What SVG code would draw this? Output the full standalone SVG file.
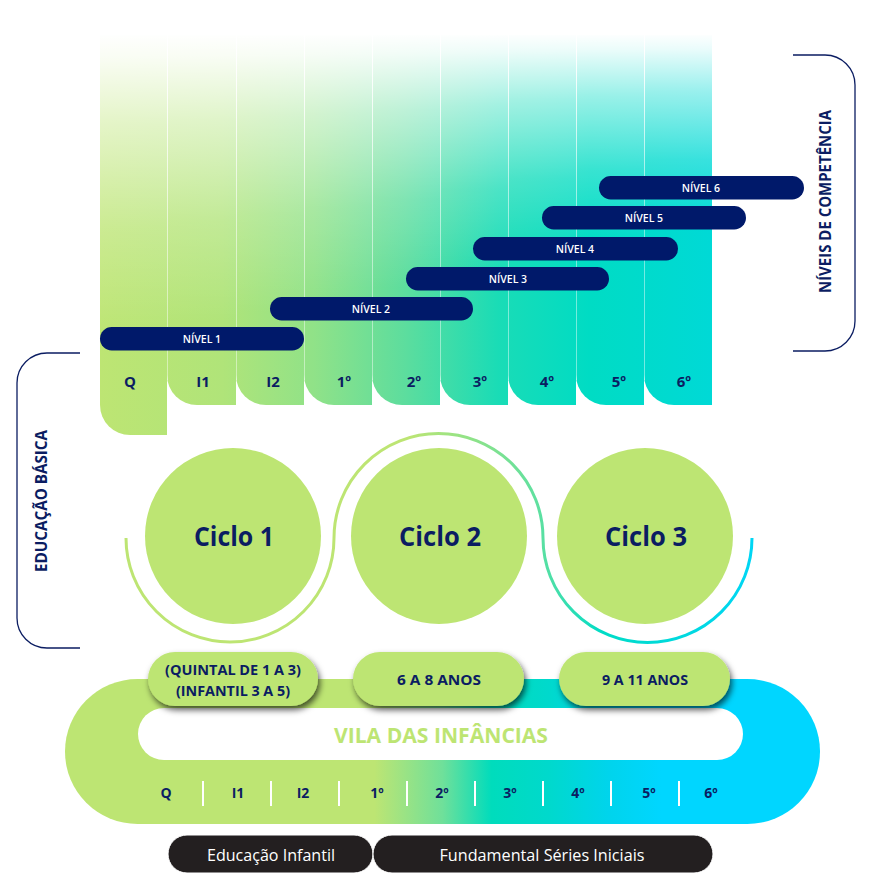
<svg xmlns="http://www.w3.org/2000/svg" width="869" height="875" viewBox="0 0 869 875">
  <defs>
    <linearGradient id="colGrad" gradientUnits="userSpaceOnUse" x1="100" y1="0" x2="712" y2="0">
      <stop offset="0" stop-color="#bde573"/>
      <stop offset="0.2" stop-color="#b0e479"/>
      <stop offset="0.35" stop-color="#90e288"/>
      <stop offset="0.5" stop-color="#5cdd9e"/>
      <stop offset="0.65" stop-color="#1adcb6"/>
      <stop offset="0.8" stop-color="#00dcc4"/>
      <stop offset="1" stop-color="#00d9d6"/>
    </linearGradient>
    <linearGradient id="fadeGrad" x1="0" y1="0" x2="0" y2="1">
      <stop offset="0" stop-color="#ffffff" stop-opacity="1"/>
      <stop offset="0.08" stop-color="#ffffff" stop-opacity="0.92"/>
      <stop offset="0.3" stop-color="#ffffff" stop-opacity="0.6"/>
      <stop offset="0.65" stop-color="#ffffff" stop-opacity="0.22"/>
      <stop offset="1" stop-color="#ffffff" stop-opacity="0"/>
    </linearGradient>
    <linearGradient id="bandGrad" gradientUnits="userSpaceOnUse" x1="65" y1="0" x2="820" y2="0">
      <stop offset="0" stop-color="#bde573"/>
      <stop offset="0.41" stop-color="#bde573"/>
      <stop offset="0.5" stop-color="#6fe09a"/>
      <stop offset="0.565" stop-color="#00dcbc"/>
      <stop offset="0.64" stop-color="#00d9cc"/>
      <stop offset="0.72" stop-color="#00d4ec"/>
      <stop offset="0.79" stop-color="#00d6ff"/>
      <stop offset="1" stop-color="#00d6ff"/>
    </linearGradient>
    <linearGradient id="arcGrad" gradientUnits="userSpaceOnUse" x1="126" y1="0" x2="752" y2="0">
      <stop offset="0" stop-color="#bde573"/>
      <stop offset="0.45" stop-color="#bde573"/>
      <stop offset="0.66" stop-color="#5ee0a0"/>
      <stop offset="0.76" stop-color="#00dcc6"/>
      <stop offset="1" stop-color="#00d6f4"/>
    </linearGradient>
    <filter id="shadow" x="-20%" y="-30%" width="140%" height="180%">
      <feDropShadow dx="2" dy="4" stdDeviation="3" flood-color="#000000" flood-opacity="0.65"/>
    </filter>
  </defs>
  <style>
    .lbl { font-family: "Open Sans", "Noto Sans", sans-serif; font-weight: 700; fill: #0b1d62; text-anchor: middle; }
    .col { font-size: 15px; }
    .band { font-size: 14px; }
    .lvl { fill: #00196a; }
    .lvlt { font-family: "Open Sans", "Noto Sans", sans-serif; font-weight: 600; font-size: 10.5px; fill: #ffffff; text-anchor: middle; }
    .bracket { fill: none; stroke: #0b1d62; stroke-width: 1.3; }
    .side { font-family: "Open Sans", "Noto Sans", sans-serif; font-weight: 700; font-size: 16px; fill: #0b1d62; text-anchor: middle; }
    .circle { fill: #bde573; }
    .ciclo { font-family: "Open Sans", "Noto Sans", sans-serif; font-weight: 700; font-size: 26px; fill: #0b1d62; text-anchor: middle; }
    .arc { fill: none; stroke: url(#arcGrad); stroke-width: 3; }
    .pill { fill: #bde573; filter: url(#shadow); }
    .pillt { font-family: "Open Sans", "Noto Sans", sans-serif; font-weight: 700; font-size: 15px; fill: #0b1d62; text-anchor: middle; }
    .dark { fill: #231f20; stroke: #ffffff; stroke-width: 1; }
    .darkt { font-family: "Open Sans", "Noto Sans", sans-serif; font-weight: 400; font-size: 16px; fill: #ffffff; text-anchor: middle; }
    .sep { stroke: #ffffff; stroke-width: 2; }
    .csep { stroke: #ffffff; stroke-width: 1; stroke-opacity: 0.45; }
    .fade { fill: url(#fadeGrad); }
  </style>

  <!-- Top column chart -->
  <g id="columns">
    <path fill="url(#colGrad)" d="M100,35 H167 V435 H130 A30,30 0 0 1 100,405 Z"/>
    <path fill="url(#colGrad)" d="M167,35 H236 V405 H197 A30,30 0 0 1 167,375 Z"/>
    <path fill="url(#colGrad)" d="M236,35 H304 V405 H266 A30,30 0 0 1 236,375 Z"/>
    <path fill="url(#colGrad)" d="M304,35 H372 V405 H334 A30,30 0 0 1 304,375 Z"/>
    <path fill="url(#colGrad)" d="M372,35 H440 V405 H402 A30,30 0 0 1 372,375 Z"/>
    <path fill="url(#colGrad)" d="M440,35 H508 V405 H470 A30,30 0 0 1 440,375 Z"/>
    <path fill="url(#colGrad)" d="M508,35 H576 V405 H538 A30,30 0 0 1 508,375 Z"/>
    <path fill="url(#colGrad)" d="M576,35 H644 V405 H606 A30,30 0 0 1 576,375 Z"/>
    <path fill="url(#colGrad)" d="M644,35 H712 V405 H674 A30,30 0 0 1 644,375 Z"/>
    <rect class="fade" x="99" y="33" width="69" height="300"/>
    <rect class="fade" x="167" y="33" width="70" height="290"/>
    <rect class="fade" x="236" y="33" width="69" height="280"/>
    <rect class="fade" x="304" y="33" width="69" height="268"/>
    <rect class="fade" x="372" y="33" width="69" height="255"/>
    <rect class="fade" x="440" y="33" width="69" height="240"/>
    <rect class="fade" x="508" y="33" width="69" height="225"/>
    <rect class="fade" x="576" y="33" width="69" height="210"/>
    <rect class="fade" x="644" y="33" width="69" height="195"/>
    <line class="csep" x1="167.5" y1="40" x2="167.5" y2="380"/>
    <line class="csep" x1="236.5" y1="40" x2="236.5" y2="380"/>
    <line class="csep" x1="304.5" y1="40" x2="304.5" y2="380"/>
    <line class="csep" x1="372.5" y1="40" x2="372.5" y2="380"/>
    <line class="csep" x1="440.5" y1="40" x2="440.5" y2="380"/>
    <line class="csep" x1="508.5" y1="40" x2="508.5" y2="380"/>
    <line class="csep" x1="576.5" y1="40" x2="576.5" y2="380"/>
    <line class="csep" x1="644.5" y1="40" x2="644.5" y2="380"/>
    <text class="lbl col" x="130" y="387">Q</text>
    <text class="lbl col" x="203" y="387">I1</text>
    <text class="lbl col" x="273" y="387">I2</text>
    <text class="lbl col" x="344" y="387">1º</text>
    <text class="lbl col" x="414" y="387">2º</text>
    <text class="lbl col" x="480" y="387">3º</text>
    <text class="lbl col" x="547" y="387">4º</text>
    <text class="lbl col" x="619" y="387">5º</text>
    <text class="lbl col" x="684" y="387">6º</text>
  </g>

  <!-- Competence levels -->
  <g id="nivel1">
    <rect class="lvl" x="100" y="327" width="204" height="23.5" rx="11.75"/>
    <text class="lvlt" x="202" y="342.5">NÍVEL 1</text>
  </g>
  <g id="nivel2">
    <rect class="lvl" x="270" y="297" width="203" height="23.5" rx="11.75"/>
    <text class="lvlt" x="371" y="312.5">NÍVEL 2</text>
  </g>
  <g id="nivel3">
    <rect class="lvl" x="406" y="267" width="203" height="23.5" rx="11.75"/>
    <text class="lvlt" x="508" y="282.5">NÍVEL 3</text>
  </g>
  <g id="nivel4">
    <rect class="lvl" x="473" y="237" width="205" height="23.5" rx="11.75"/>
    <text class="lvlt" x="575" y="252.5">NÍVEL 4</text>
  </g>
  <g id="nivel5">
    <rect class="lvl" x="542" y="206" width="204" height="23.5" rx="11.75"/>
    <text class="lvlt" x="644" y="221.5">NÍVEL 5</text>
  </g>
  <g id="nivel6">
    <rect class="lvl" x="599" y="176" width="205" height="23.5" rx="11.75"/>
    <text class="lvlt" x="701" y="191.5">NÍVEL 6</text>
  </g>

  <!-- Brackets -->
  <g id="niveis-competencia">
    <path class="bracket" d="M793,55 H825 A30,30 0 0 1 855,85 V321 A30,30 0 0 1 825,351 H793"/>
    <text class="side" transform="translate(831,201.5) rotate(-90)" textLength="183" lengthAdjust="spacingAndGlyphs">NÍVEIS DE COMPETÊNCIA</text>
  </g>
  <g id="educacao-basica">
    <path class="bracket" d="M80,353 H47 A30,30 0 0 0 17,383 V618 A30,30 0 0 0 47,648 H80"/>
    <text class="side" transform="translate(47,501) rotate(-90)" textLength="142" lengthAdjust="spacingAndGlyphs">EDUCAÇÃO BÁSICA</text>
  </g>

  <!-- Connectors (arcs) -->
  <g id="connectors">
    <path class="arc" d="M126,538 A104,104 0 0 0 334,538"/>
    <path class="arc" d="M334,538 A104.5,104.5 0 0 1 543,538"/>
    <path class="arc" d="M543,538 A104.5,104.5 0 0 0 752,538"/>
  </g>

  <!-- Cycles -->
  <g id="ciclo1">
    <circle class="circle" cx="233" cy="536" r="88"/>
    <text class="ciclo" x="234" y="546" textLength="80" lengthAdjust="spacingAndGlyphs">Ciclo 1</text>
  </g>
  <g id="ciclo2">
    <circle class="circle" cx="439" cy="536" r="88"/>
    <text class="ciclo" x="440" y="546" textLength="82" lengthAdjust="spacingAndGlyphs">Ciclo 2</text>
  </g>
  <g id="ciclo3">
    <circle class="circle" cx="645" cy="536" r="88"/>
    <text class="ciclo" x="646" y="546" textLength="82" lengthAdjust="spacingAndGlyphs">Ciclo 3</text>
  </g>

  <!-- Vila das Infâncias band -->
  <g id="vila">
    <path fill="url(#bandGrad)" d="M137.5,679 H747.5 A72.5,72.5 0 0 1 747.5,824 H137.5 A72.5,72.5 0 0 1 137.5,679 Z"/>
    <rect x="138" y="708" width="605" height="52" rx="26" fill="#ffffff"/>
    <text x="441" y="743" font-family="'Open Sans', 'Noto Sans', sans-serif" font-weight="700" font-size="22" fill="#bde573" text-anchor="middle" textLength="214" lengthAdjust="spacingAndGlyphs">VILA DAS INFÂNCIAS</text>
    <line class="sep" x1="203" y1="781" x2="203" y2="806"/>
    <line class="sep" x1="271" y1="781" x2="271" y2="806"/>
    <line class="sep" x1="339" y1="781" x2="339" y2="806"/>
    <line class="sep" x1="407" y1="781" x2="407" y2="806"/>
    <line class="sep" x1="475" y1="781" x2="475" y2="806"/>
    <line class="sep" x1="543" y1="781" x2="543" y2="806"/>
    <line class="sep" x1="611" y1="781" x2="611" y2="806"/>
    <line class="sep" x1="679" y1="781" x2="679" y2="806"/>
    <text class="lbl band" x="166" y="798">Q</text>
    <text class="lbl band" x="238" y="798">I1</text>
    <text class="lbl band" x="303" y="798">I2</text>
    <text class="lbl band" x="377" y="798">1º</text>
    <text class="lbl band" x="442" y="798">2º</text>
    <text class="lbl band" x="510" y="798">3º</text>
    <text class="lbl band" x="578" y="798">4º</text>
    <text class="lbl band" x="649" y="798">5º</text>
    <text class="lbl band" x="711" y="798">6º</text>
  </g>

  <!-- Age pills -->
  <g id="idade1">
    <rect class="pill" x="148" y="652" width="170" height="54" rx="27"/>
    <text class="pillt" x="233" y="675" textLength="136" lengthAdjust="spacingAndGlyphs">(QUINTAL DE 1 A 3)</text>
    <text class="pillt" x="233" y="696" textLength="114" lengthAdjust="spacingAndGlyphs">(INFANTIL 3 A 5)</text>
  </g>
  <g id="idade2">
    <rect class="pill" x="353" y="652" width="171" height="54" rx="27"/>
    <text class="pillt" x="439" y="685" textLength="84" lengthAdjust="spacingAndGlyphs">6 A 8 ANOS</text>
  </g>
  <g id="idade3">
    <rect class="pill" x="559" y="652" width="171" height="54" rx="27"/>
    <text class="pillt" x="645" y="685" textLength="86" lengthAdjust="spacingAndGlyphs">9 A 11 ANOS</text>
  </g>

  <!-- Bottom stage pills -->
  <g id="educacao-infantil">
    <rect class="dark" x="168" y="835" width="205" height="38" rx="19"/>
    <text class="darkt" x="271" y="861" textLength="128" lengthAdjust="spacingAndGlyphs">Educação Infantil</text>
  </g>
  <g id="fundamental">
    <rect class="dark" x="373" y="835" width="340" height="38" rx="19"/>
    <text class="darkt" x="542" y="861" textLength="205" lengthAdjust="spacingAndGlyphs">Fundamental Séries Iniciais</text>
  </g>
</svg>
